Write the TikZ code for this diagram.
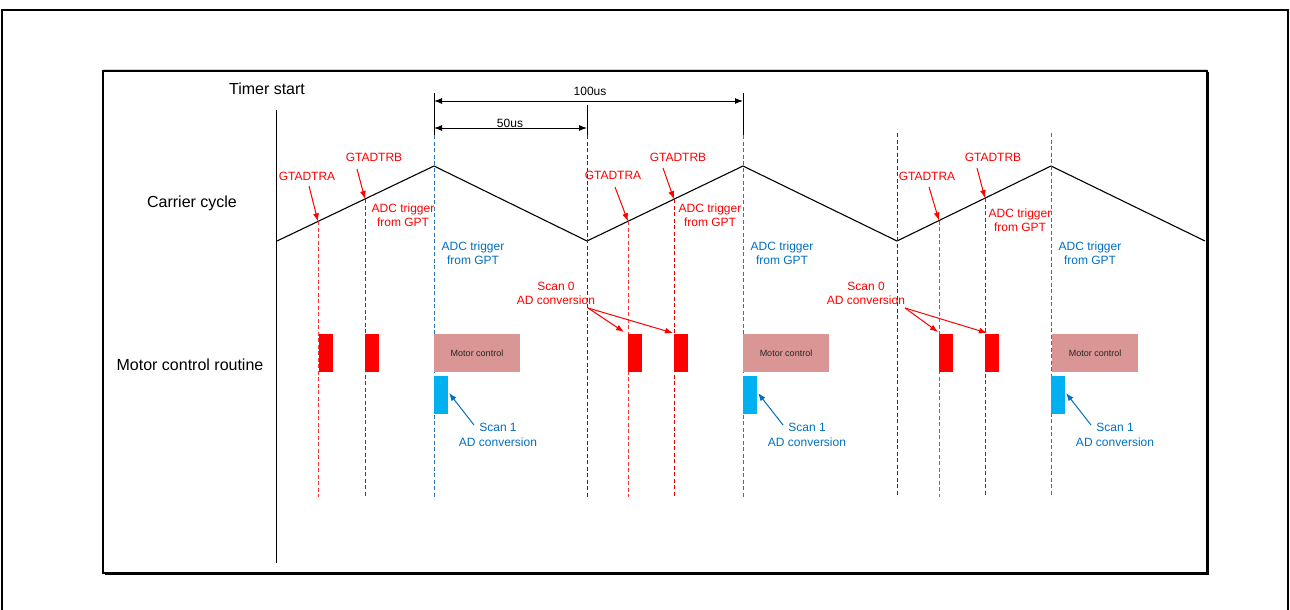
\documentclass[tikz,border=0pt]{standalone}
\usepackage{fontspec}
\setmainfont{Liberation Sans}
\usetikzlibrary{arrows.meta,calc}
\definecolor{sigred}{RGB}{255,0,0}
\definecolor{sigred2}{RGB}{225,0,0}
\definecolor{sigblue}{RGB}{0,112,192}
\definecolor{lineblue}{RGB}{46,117,182}
\definecolor{motorfill}{RGB}{217,150,148}
\definecolor{scanblue}{RGB}{0,176,240}
\definecolor{txtdark}{RGB}{38,38,38}
\tikzset{
  biglbl/.style={font=\fontsize{16}{18}\selectfont, inner sep=0pt},
  rlbl/.style={font=\fontsize{12}{14}\selectfont, text=sigred, inner sep=0pt, align=center},
  blbl/.style={font=\fontsize{12}{14.5}\selectfont, text=sigblue, inner sep=0pt, align=center},
  dimlbl/.style={font=\fontsize{12}{14}\selectfont, inner sep=0pt},
  wave/.style={line width=1.1pt, black},
  reddashA/.style={sigred!80, line width=1pt, dash pattern=on 4pt off 2.5pt},
  reddashB/.style={sigred2, line width=1pt, dash pattern=on 4pt off 2.5pt},
  bluedash/.style={lineblue, line width=1pt, dash pattern=on 4pt off 2.5pt},
  blackdash/.style={black!80, line width=1pt, dash pattern=on 4pt off 2.5pt},
  extline/.style={black, line width=1pt},
  dimarrow/.style={line width=1pt, {Latex[length=8pt,width=6pt]}-{Latex[length=8pt,width=6pt]}},
  rarrow/.style={sigred, line width=1pt, -{Latex[length=8pt,width=6pt]}},
  barrow/.style={sigblue, line width=1pt, -{Latex[length=8pt,width=6pt]}},
  redblk/.style={fill=sigred, draw=none, inner sep=0pt, outer sep=0pt, minimum width=14pt, minimum height=38pt, anchor=north west},
  blueblk/.style={fill=scanblue, draw=none, inner sep=0pt, outer sep=0pt, minimum width=14pt, minimum height=38pt, anchor=north west},
  motorblk/.style={fill=motorfill, draw=none, inner sep=0pt, outer sep=0pt, minimum width=86pt, minimum height=38pt, anchor=north west, text=txtdark, font=\fontsize{9}{10}\selectfont},
}
\begin{document}
\begin{tikzpicture}[x=1pt,y=-1pt]
\useasboundingbox (0,0) rectangle (1290,610);
\clip (0,0) rectangle (1290,610);
% outer frame
\draw[line width=1.5pt] (2,10) rectangle (1288,620);
% inner frame
\draw[gray!35, line width=1pt] (103,69.5) -- (1207,69.5);
\draw[line width=1.5pt] (103,71) rectangle (1207,573);
\draw[line width=1.2pt] (104.5,574.5) -- (1208.5,574.5) -- (1208.5,72.5);

% axis
\draw[line width=1pt] (276,110) -- (276,563);
\node[biglbl] (timer) at (267,89) {Timer start};
\node[biglbl] (carrier) at (192,203) {Carrier cycle};
\node[biglbl] (motor) at (190,365) {Motor control routine};

% carrier wave
\draw[wave] (277,241) -- (434,166) -- (587,241) -- (743,166) -- (897,241) -- (1051,166) -- (1205,241);

% wave points
\coordinate (wa1) at (318,221.4);
\coordinate (wb1) at (365,199);
\coordinate (wa2) at (628,221.3);
\coordinate (wb2) at (674,199.2);
\coordinate (wa3) at (939,220.5);
\coordinate (wb3) at (985,198.1);

% dimension lines
\coordinate (e1t) at (434,93);
\coordinate (e1b) at (434,135);
\coordinate (e2t) at (587,105);
\coordinate (e2b) at (587,135);
\coordinate (e3t) at (743,93);
\coordinate (e3b) at (743,135);
\draw[extline] (e1t) -- (e1b);
\draw[extline] (e2t) -- (e2b);
\draw[extline] (e3t) -- (e3b);
\coordinate (d100a) at (434,101);
\coordinate (d100b) at (743,101);
\coordinate (d50a) at (434,128);
\coordinate (d50b) at (587,128);
\draw[dimarrow] (d100a) -- (d100b);
\draw[dimarrow] (d50a) -- (d50b);
\node[dimlbl] (l100) at (590,91) {100us};
\node[dimlbl] (l50) at (510,123) {50us};

% vertical dashed lines
\draw[reddashA] (wa1) -- (318,497);
\draw[reddashB] (wb1) -- (365,497);
\draw[bluedash] (e1b) -- (434,497);
\draw[blackdash] (e2b) -- (587,497);
\draw[reddashA] (wa2) -- (628,497);
\draw[reddashB] (wb2) -- (674,497);
\draw[bluedash] (e3b) -- (743,497);
\draw[blackdash] (897,133) -- (897,497);
\draw[reddashA] (wa3) -- (939,497);
\draw[reddashB] (wb3) -- (985,497);
\draw[bluedash] (1051,133) -- (1051,497);

% GTADTR labels & arrows
\node[rlbl] (ga1) at (307,176) {GTADTRA};
\node[rlbl] (gb1) at (374,157) {GTADTRB};
\node[rlbl] (ga2) at (613,175) {GTADTRA};
\node[rlbl] (gb2) at (678,157) {GTADTRB};
\node[rlbl] (ga3) at (927,176) {GTADTRA};
\node[rlbl] (gb3) at (993,157) {GTADTRB};
\coordinate (ga1s) at (309,186);
\coordinate (gb1s) at (357,169);
\coordinate (ga2s) at (615,187);
\coordinate (gb2s) at (663,168);
\coordinate (ga3s) at (929,187);
\coordinate (gb3s) at (977,168);
\draw[rarrow] (ga1s) -- (wa1);
\draw[rarrow] (gb1s) -- (wb1);
\draw[rarrow] (ga2s) -- (wa2);
\draw[rarrow] (gb2s) -- (wb2);
\draw[rarrow] (ga3s) -- (wa3);
\draw[rarrow] (gb3s) -- (wb3);

% ADC trigger labels
\node[rlbl] (rt1) at (403,215) {ADC trigger\\from GPT};
\node[rlbl] (rt2) at (710,215) {ADC trigger\\from GPT};
\node[rlbl] (rt3) at (1020,220) {ADC trigger\\from GPT};
\node[blbl] (bt1) at (473,253) {ADC trigger\\from GPT};
\node[blbl] (bt2) at (782,253) {ADC trigger\\from GPT};
\node[blbl] (bt3) at (1090,253) {ADC trigger\\from GPT};

% blocks
\node[redblk] (ra1) at (319,334) {};
\node[redblk] (rb1) at (365,334) {};
\node[redblk] (ra2) at (628,334) {};
\node[redblk] (rb2) at (674,334) {};
\node[redblk] (ra3) at (939,334) {};
\node[redblk] (rb3) at (985,334) {};
\node[motorblk] (m1) at (434,334) {Motor control};
\node[motorblk] (m2) at (743,334) {Motor control};
\node[motorblk] (m3) at (1052,334) {Motor control};
\node[blueblk] (s1) at (434,376) {};
\node[blueblk] (s2) at (743,376) {};
\node[blueblk] (s3) at (1051,376) {};

% Scan 0 labels and arrows
\node[rlbl] (sc02) at (556,293) {Scan 0\\AD conversion};
\node[rlbl] (sc03) at (866,293) {Scan 0\\AD conversion};
\coordinate (sc02s) at (588,308);
\coordinate (sc03s) at (905,308);
\draw[rarrow] (sc02s) -- ($(ra2.north west)+(-4,-2)$);
\draw[rarrow] (sc02s) -- ($(rb2.north west)+(-1,-1)$);
\draw[rarrow] (sc03s) -- ($(ra3.north west)+(-1,-2)$);
\draw[rarrow] (sc03s) -- ($(rb3.north west)+(2,-1)$);

% Scan 1 labels and arrows
\node[blbl] (sc11) at (498,435) {Scan 1\\AD conversion};
\node[blbl] (sc12) at (807,435) {Scan 1\\AD conversion};
\node[blbl] (sc13) at (1115,435) {Scan 1\\AD conversion};
\coordinate (sc11s) at (474,425);
\coordinate (sc12s) at (783,425);
\coordinate (sc13s) at (1091,425);
\draw[barrow] (sc11s) -- ($(s1.east)+(1,-2)$);
\draw[barrow] (sc12s) -- ($(s2.east)+(1,-2)$);
\draw[barrow] (sc13s) -- ($(s3.east)+(1,-2)$);
\end{tikzpicture}
\end{document}
